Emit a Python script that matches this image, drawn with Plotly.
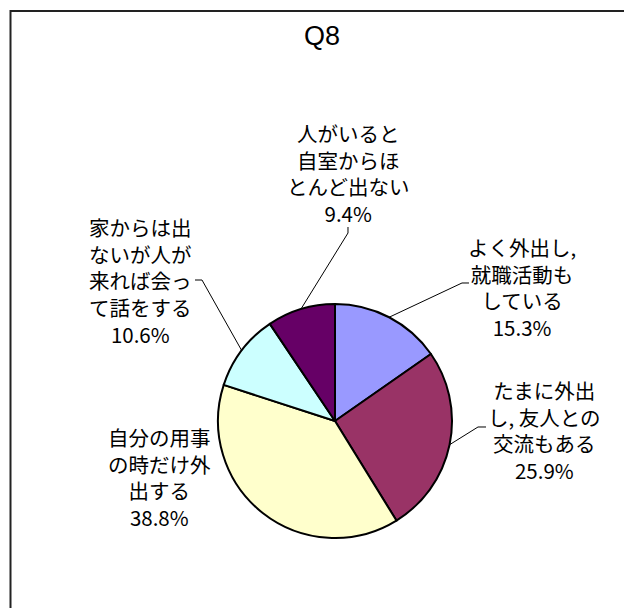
import math
import plotly.graph_objects as go

W, H = 632, 608
OFF = 8  # page body margin in the browser

categories = [
    "よく外出し,就職活動もしている",
    "たまに外出し,友人との交流もある",
    "自分の用事の時だけ外出する",
    "家からは出ないが人が来れば会って話をする",
    "人がいると自室からほとんど出ない",
]
label_text = [
    "よく外出し,<br>就職活動も<br>している",
    "たまに外出<br>し, 友人との<br>交流もある",
    "自分の用事<br>の時だけ外<br>出する",
    "家からは出<br>ないが人が<br>来れば会っ<br>て話をする",
    "人がいると<br>自室からほ<br>とんど出ない",
]
values = [15.3, 25.9, 38.8, 10.6, 9.4]
colors = ["#9999FF", "#993366", "#FFFFCC", "#CCFFFF", "#660066"]

# layout in screen pixels (pie centre / radius, label centres, leader elbows)
cx, cy, r = 335, 421, 117
label_pos = [(522, 287), (544, 430), (159, 477), (140, 280), (348, 173)]
leader = [
    [(462, 283), (469, 283)],
    [(478, 427), (486, 427)],
    None,
    [(202, 280), (195, 280)],
    [(348, 233), (348, 227)],
]


def px(x):
    return (x - OFF) / W


def py(y):
    return 1 - (y - OFF) / H


fig = go.Figure()
fig.add_trace(go.Pie(
    labels=categories,
    values=values,
    sort=False,
    direction="clockwise",
    rotation=0,
    marker=dict(colors=colors, line=dict(color="black", width=2)),
    textinfo="none",
    hoverinfo="label+percent",
    showlegend=False,
    domain=dict(x=[px(cx - r), px(cx + r)], y=[py(cy + r), py(cy - r)]),
))

total = sum(values)
cum = 0
for i, v in enumerate(values):
    mid = (cum + v / 2) / total * 2 * math.pi
    cum += v
    ex = cx + r * math.sin(mid)
    ey = cy - r * math.cos(mid)
    lx, ly = label_pos[i]
    fig.add_annotation(
        x=px(lx), y=py(ly), xref="paper", yref="paper",
        text=label_text[i] + "<br>" + f"{v:.1f}%",
        showarrow=False, align="center",
        xanchor="center", yanchor="middle",
        font=dict(family="Noto Sans CJK JP", size=20.5, color="black"),
    )
    if leader[i]:
        pts = [(ex, ey)] + leader[i]
        path = "M " + " L ".join(f"{px(a):.5f},{py(b):.5f}" for a, b in pts)
        fig.add_shape(type="path", path=path, xref="paper", yref="paper",
                      line=dict(color="black", width=1))

# chart frame (right and bottom edges fall outside the picture)
fig.add_shape(type="rect", xref="paper", yref="paper",
              x0=px(10.5), y0=-0.1, x1=1.1, y1=py(11),
              line=dict(color="#222222", width=2))

fig.update_layout(
    width=W, height=H,
    margin=dict(l=0, r=0, t=0, b=0),
    paper_bgcolor="white",
    plot_bgcolor="white",
    title=dict(text="Q8", x=px(322), y=py(36), xanchor="center", yanchor="middle",
               font=dict(family="Liberation Sans", size=27, color="black")),
)

fig.write_html("out.html")
